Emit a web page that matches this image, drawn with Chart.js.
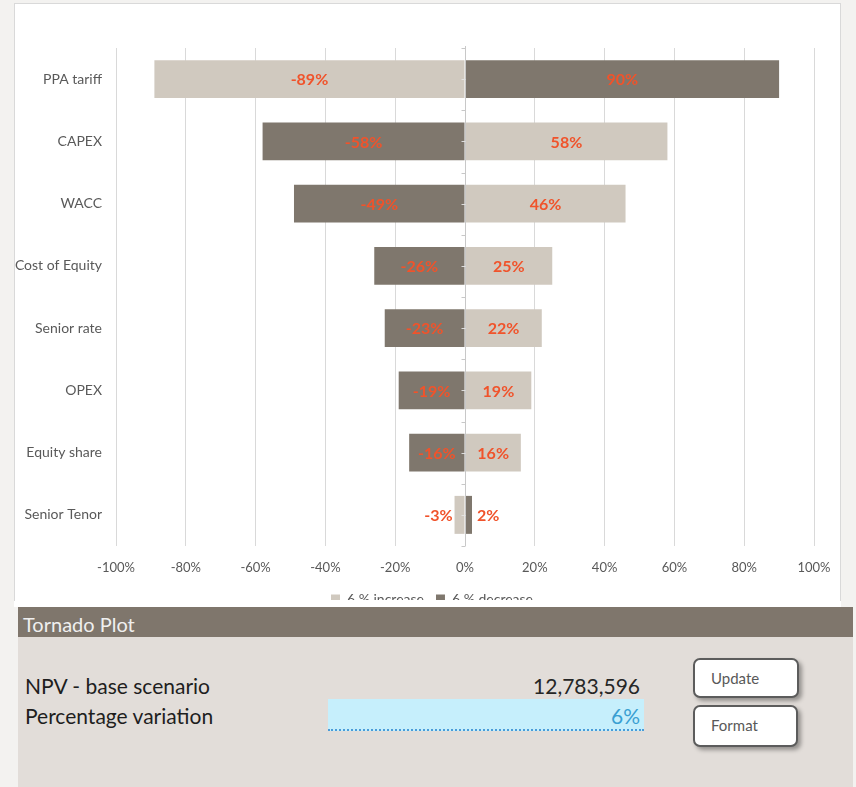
<!DOCTYPE html>
<html>
<head>
<meta charset="utf-8">
<script src="https://cdn.jsdelivr.net/npm/chart.js@4.4.1/dist/chart.umd.min.js"></script>
<style>
  html, body { margin:0; padding:0; }
  body { width:856px; height:787px; background:#F3F2F0; position:relative; overflow:hidden; font-family: Lato, "Open Sans", sans-serif; }
  #whitecell { position:absolute; left:14px; top:3px; width:827px; height:604px; background:#FFFFFF; }
  #frame { position:absolute; left:14px; top:3px; width:827px; height:598px; background:#FFFFFF; border:1px solid #D9D9D9; border-bottom:none; box-sizing:border-box; }
  #cwrap { position:absolute; left:0; top:0; width:856px; height:600px; overflow:hidden; }
  #panel { position:absolute; left:18px; top:607px; width:835px; height:180px; background:#E2DDD9; }
  #phead { position:absolute; left:18px; top:607px; width:835px; height:30px; background:#7F766C; }
  .t { position:absolute; white-space:nowrap; font-family: Lato, "Open Sans", sans-serif; }
  .btn { position:absolute; background:#FFFFFF; border:2px solid #5C5C5C; border-radius:7px; box-sizing:border-box; box-shadow: 3px 3px 4px rgba(0,0,0,0.35); }
</style>
</head>
<body>
<div id="whitecell"></div>
<div id="frame"></div>
<div id="cwrap"><canvas id="c" width="856" height="616"></canvas></div>
<div id="panel"></div>
<div id="phead"></div>
<div class="t" style="left:23px; top:614px; font-size:20px; line-height:20px; color:#EFEFEF;">Tornado Plot</div>
<div class="t" style="left:25px; top:675px; font-size:21px; line-height:21px; color:#1E1E1E;">NPV - base scenario</div>
<div class="t" style="left:25px; top:705px; font-size:21px; line-height:21px; color:#1E1E1E;">Percentage variation</div>
<div class="t" style="right:216px; top:675px; font-size:21px; line-height:21px; color:#262626;">12,783,596</div>
<div style="position:absolute; left:328px; top:699px; width:316px; height:30px; background:#C6EFFC; border-bottom:2px dotted #4A9BD8;"></div>
<div class="t" style="right:216px; top:705px; font-size:21px; line-height:21px; color:#3A9FD2;">6%</div>
<div class="btn" style="left:693px; top:658px; width:106px; height:40px;"></div>
<div class="t" style="left:711px; top:671px; font-size:15px; line-height:15px; color:#595959;">Update</div>
<div class="btn" style="left:693px; top:705px; width:105px; height:42px;"></div>
<div class="t" style="left:711px; top:718px; font-size:15px; line-height:15px; color:#595959;">Format</div>
<script>
const categories = ['PPA tariff', 'CAPEX', 'WACC', 'Cost of Equity', 'Senior rate', 'OPEX', 'Equity share', 'Senior Tenor'];
const increaseValues = [-89, 58, 46, 25, 22, 19, 16, -3];
const decreaseValues = [90, -58, -49, -26, -23, -19, -16, 2];
const xTicks = [-100, -80, -60, -40, -20, 0, 20, 40, 60, 80, 100];
const seriesNames = ['6 % increase', '6 % decrease'];

const LIGHT = '#D0C9BF';
const DARK = '#7F776D';
const LABEL = '#F0532B';
const FONT = 'Lato, "Open Sans", sans-serif';

const legendShiftPlugin = {
  id: 'legendShift',
  afterLayout(chart) {
    const lg = chart.legend;
    if (lg) { lg.left += 25; lg.right += 25; }
  }
};

const zeroAxisPlugin = {
  id: 'zeroAxis',
  afterDatasetsDraw(chart) {
    const ctx = chart.ctx;
    const xs = chart.scales.x;
    const x0 = Math.round(xs.getPixelForValue(0)) + 0.5;
    const top = chart.chartArea.top, bottom = chart.chartArea.bottom;
    const n = categories.length;
    const band = (bottom - top) / n;
    ctx.save();
    ctx.strokeStyle = '#C8C8C8';
    ctx.lineWidth = 1;
    ctx.beginPath();
    ctx.moveTo(x0, top - 2);
    ctx.lineTo(x0, bottom);
    for (let i = 0; i <= n; i++) {
      const y = Math.round(top + i * band) + 0.5;
      ctx.moveTo(x0 - 4, y); ctx.lineTo(x0, y);
    }
    ctx.stroke();
    ctx.strokeStyle = 'rgba(230,230,230,0.9)';
    ctx.beginPath();
    for (let i = 0; i < n; i++) {
      const y = Math.round(top + (i + 0.5) * band) + 0.5;
      ctx.moveTo(x0 - 4, y); ctx.lineTo(x0, y);
    }
    ctx.stroke();
    ctx.restore();
  }
};

const labelPlugin = {
  id: 'barLabels',
  afterDraw(chart) {
    const ctx = chart.ctx;
    ctx.save();
    ctx.font = 'bold 16px ' + FONT;
    ctx.fillStyle = LABEL;
    ctx.textBaseline = 'middle';
    chart.data.datasets.forEach((ds, di) => {
      const meta = chart.getDatasetMeta(di);
      meta.data.forEach((bar, i) => {
        const v = ds.data[i];
        const txt = v + '%';
        const w = ctx.measureText(txt).width;
        const left = Math.min(bar.x, bar.base), right = Math.max(bar.x, bar.base);
        if (right - left > w + 4) {
          ctx.textAlign = 'center';
          ctx.fillText(txt, (left + right) / 2, bar.y + 1);
        } else if (v < 0) {
          ctx.textAlign = 'right';
          ctx.fillText(txt, left - 2, bar.y + 1);
        } else {
          ctx.textAlign = 'left';
          ctx.fillText(txt, right + 5, bar.y + 1);
        }
      });
    });
    ctx.restore();
  }
};

new Chart(document.getElementById('c'), {
  type: 'bar',
  data: {
    labels: categories,
    datasets: [
      { label: seriesNames[0], data: increaseValues, backgroundColor: LIGHT, borderWidth: 0, barPercentage: 0.61, categoryPercentage: 1 },
      { label: seriesNames[1], data: decreaseValues, backgroundColor: DARK, borderWidth: 0, barPercentage: 0.61, categoryPercentage: 1 }
    ]
  },
  options: {
    indexAxis: 'y',
    responsive: false,
    animation: false,
    layout: { padding: { top: 48, left: 0, right: 42, bottom: 0 } },
    scales: {
      x: {
        stacked: true,
        min: -100, max: 100,
        afterBuildTicks(scale) { scale.ticks = xTicks.map(v => ({ value: v })); },
        afterFit(scale) { scale.height = 34; },
        grid: { color: '#D9D9D9', drawTicks: false, lineWidth: 1 },
        border: { display: false },
        ticks: { padding: 14, color: '#595959', font: { family: FONT, size: 13 }, callback: v => v + '%' }
      },
      y: {
        stacked: true,
        afterFit(scale) { scale.width = 116; },
        grid: { display: false, drawTicks: false },
        border: { display: false },
        ticks: { padding: 14, color: '#595959', font: { family: FONT, size: 14 } }
      }
    },
    plugins: {
      legend: {
        position: 'bottom',
        labels: { boxWidth: 9, boxHeight: 9, color: '#595959', font: { family: FONT, size: 14 }, padding: 12 }
      },
      tooltip: { enabled: false }
    }
  },
  plugins: [legendShiftPlugin, zeroAxisPlugin, labelPlugin]
});
</script>
</body>
</html>
